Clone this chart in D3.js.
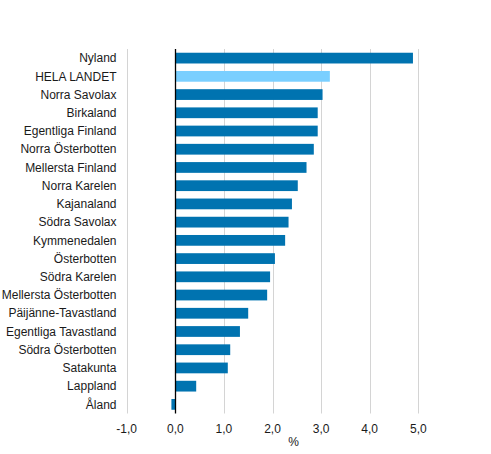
<!DOCTYPE html>
<html lang="sv">
<head>
<meta charset="UTF-8" />
<script src="https://d3js.org/d3.v7.min.js"></script>
<title>Regioner</title>
<style>
  body { margin: 0; background: #fff; }
  text { font-family: "Liberation Sans", Arial, sans-serif; font-size: 12px; fill: #1a1a1a; }
</style>
</head>
<body>
<script>
var regions = ["Nyland", "HELA LANDET", "Norra Savolax", "Birkaland", "Egentliga Finland",
  "Norra Österbotten", "Mellersta Finland", "Norra Karelen", "Kajanaland", "Södra Savolax",
  "Kymmenedalen", "Österbotten", "Södra Karelen", "Mellersta Österbotten", "Päijänne-Tavastland",
  "Egentliga Tavastland", "Södra Österbotten", "Satakunta", "Lappland", "Åland"];
var values = [4.89, 3.18, 3.03, 2.93, 2.93, 2.85, 2.70, 2.52, 2.40, 2.33,
  2.26, 2.05, 1.95, 1.89, 1.50, 1.33, 1.13, 1.08, 0.43, -0.08];
var xTicks = [-1, 0, 1, 2, 3, 4, 5];
var highlight = "HELA LANDET";

var W = 491, H = 454;
// note: "top" is taken by window.top, so use plot* names
var plotLeft = 126.7, plotRight = 418.3, plotTop = 49, plotBottom = 413.5;

var svg = d3.select("body").append("svg").attr("width", W).attr("height", H);

var x = d3.scaleLinear().domain([-1, 5]).range([plotLeft, plotRight]);
var y = d3.scaleBand().domain(regions).range([plotTop, plotBottom]).paddingInner(0.41).paddingOuter(0.205);

// gridlines
svg.append("g").selectAll("line").data(xTicks.filter(function(d){ return d != 0; }))
  .enter().append("line")
  .attr("x1", function(d){ return Math.round(x(d)) + 0.5; })
  .attr("x2", function(d){ return Math.round(x(d)) + 0.5; })
  .attr("y1", plotTop).attr("y2", plotBottom)
  .attr("stroke", "#d4d4d4").attr("stroke-width", 1);

// bars
svg.append("g").selectAll("rect").data(regions)
  .enter().append("rect")
  .attr("x", function(d, i){ return x(Math.min(0, values[i])); })
  .attr("width", function(d, i){ return Math.abs(x(values[i]) - x(0)); })
  .attr("y", function(d){ return y(d); })
  .attr("height", y.bandwidth())
  .attr("fill", function(d){ return d == highlight ? "#7acfff" : "#0073b0"; });

// zero line
svg.append("line")
  .attr("x1", Math.round(x(0)) + 0.5).attr("x2", Math.round(x(0)) + 0.5)
  .attr("y1", plotTop).attr("y2", plotBottom)
  .attr("stroke", "#000").attr("stroke-width", 1.3);

// category labels
svg.append("g").selectAll("text").data(regions)
  .enter().append("text")
  .attr("x", 116.5)
  .attr("y", function(d){ return y(d) + y.bandwidth() / 2; })
  .attr("dy", "0.35em")
  .attr("text-anchor", "end")
  .text(function(d){ return d; });

// x tick labels
var fmt = function(d){ return d.toFixed(1).replace(".", ","); };
svg.append("g").selectAll("text").data(xTicks)
  .enter().append("text")
  .attr("x", function(d){ return x(d); })
  .attr("y", 428.5)
  .attr("dy", "0.35em")
  .attr("text-anchor", "middle")
  .text(fmt);

svg.append("text").attr("x", 293.5).attr("y", 442).attr("dy", "0.35em")
  .attr("text-anchor", "middle").text("%");
</script>
</body>
</html>
